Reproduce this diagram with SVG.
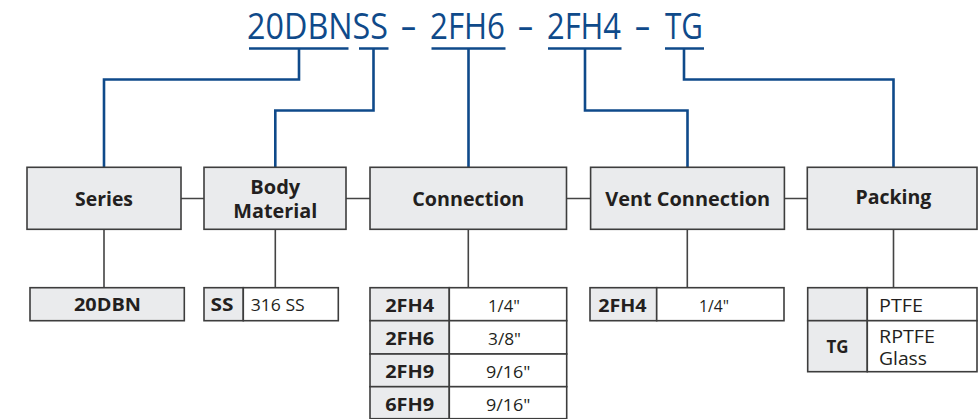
<svg xmlns="http://www.w3.org/2000/svg" width="979" height="419" viewBox="0 0 979 419">
<style>
.t{font-family:"Open Sans","Liberation Sans",sans-serif;fill:#231f20}
.title{font-family:"Open Sans","Liberation Sans",sans-serif;fill:#0f4a8a;font-size:36px}
.h{font-size:20px;font-weight:bold;text-anchor:middle}
.b{font-size:18px;font-weight:bold;text-anchor:middle}
.r{font-size:17px}
.p{font-size:18px}
.box{fill:#eaebed;stroke:#3d3d3d;stroke-width:1.6}
.wc{fill:#ffffff;stroke:#3d3d3d;stroke-width:1.6}
.gc{fill:#eaebed;stroke:#3d3d3d;stroke-width:1.6}
.blue{fill:none;stroke:#0f4a8a;stroke-width:2.6}
.gray{fill:none;stroke:#444;stroke-width:1.6}
</style>
<g id="title">
<text class="title" y="39"><tspan x="247" textLength="141" lengthAdjust="spacingAndGlyphs">20DBNSS</tspan><tspan x="401" textLength="15" lengthAdjust="spacingAndGlyphs">–</tspan><tspan x="430" textLength="75" lengthAdjust="spacingAndGlyphs">2FH6</tspan><tspan x="518" textLength="15" lengthAdjust="spacingAndGlyphs">–</tspan><tspan x="547" textLength="74" lengthAdjust="spacingAndGlyphs">2FH4</tspan><tspan x="635" textLength="15" lengthAdjust="spacingAndGlyphs">–</tspan><tspan x="665" textLength="38" lengthAdjust="spacingAndGlyphs">TG</tspan></text>
</g>
<g id="connectors">
<path class="blue" d="M249 48.5H348.5M299 48.5V79.5H104V167"/>
<path class="blue" d="M359 48.5H388.5M373.5 48.5V110.5H275.3V167"/>
<path class="blue" d="M431.5 48.5H505.5M468.5 48.5V167"/>
<path class="blue" d="M548 48.5H621.5M585 48.5V110.5H687.5V167"/>
<path class="blue" d="M665 48.5H704M684 48.5V79.5H893.5V167"/>
<path class="gray" d="M181 198.5H204M346 198.5H370M566.5 198.5H590.6M784.4 198.5H807.3"/>
<path class="gray" d="M104 229.3V288M275.3 229.3V288M468.3 229.3V288M687.3 229.3V288M893.5 229.3V288"/>
</g>
<g id="series">
<rect class="box" x="27" y="167.3" width="154" height="62"/>
<text class="t h" x="104" y="206" textLength="58" lengthAdjust="spacingAndGlyphs">Series</text>
</g>
<g id="body-material">
<rect class="box" x="204" y="167.3" width="142" height="62"/>
<text class="t h" font-size="19"><tspan x="275.3" y="194">Body</tspan><tspan x="275.3" y="218" textLength="84" lengthAdjust="spacingAndGlyphs">Material</tspan></text>
</g>
<g id="connection">
<rect class="box" x="370" y="167.3" width="196.5" height="62"/>
<text class="t h" x="468.3" y="206" textLength="112" lengthAdjust="spacingAndGlyphs">Connection</text>
</g>
<g id="vent-connection">
<rect class="box" x="590.6" y="167.3" width="193.8" height="62"/>
<text class="t h" x="687.7" y="206" textLength="165" lengthAdjust="spacingAndGlyphs">Vent Connection</text>
</g>
<g id="packing">
<rect class="box" x="807.3" y="167.3" width="169.7" height="62"/>
<text class="t h" x="893.4" y="204" textLength="76" lengthAdjust="spacingAndGlyphs">Packing</text>
</g>
<g id="series-options">
<rect class="box" x="30" y="287.7" width="154.3" height="33"/>
<text class="t b" x="107.5" y="311" textLength="67" lengthAdjust="spacingAndGlyphs">20DBN</text>
</g>
<g id="body-options">
<rect class="gc" x="204" y="287.7" width="39.3" height="33"/>
<rect class="wc" x="243.3" y="287.7" width="95" height="33"/>
<text class="t b" x="222" y="311" textLength="23" lengthAdjust="spacingAndGlyphs">SS</text>
<text class="t r" x="250.7" y="311" textLength="54" lengthAdjust="spacingAndGlyphs">316 SS</text>
</g>
<g id="connection-options">
<rect class="gc" x="370" y="287.7" width="79.3" height="33"/>
<rect class="wc" x="449.3" y="287.7" width="117.4" height="33"/>
<rect class="gc" x="370" y="320.7" width="79.3" height="33.3"/>
<rect class="wc" x="449.3" y="320.7" width="117.4" height="33.3"/>
<rect class="gc" x="370" y="354" width="79.3" height="32.7"/>
<rect class="wc" x="449.3" y="354" width="117.4" height="32.7"/>
<rect class="gc" x="370" y="386.7" width="79.3" height="32"/>
<rect class="wc" x="449.3" y="386.7" width="117.4" height="32"/>
<text class="t b" x="409.7" y="312" textLength="49" lengthAdjust="spacingAndGlyphs">2FH4</text>
<text class="t b" x="409.7" y="345" textLength="49" lengthAdjust="spacingAndGlyphs">2FH6</text>
<text class="t b" x="409.7" y="378" textLength="49" lengthAdjust="spacingAndGlyphs">2FH9</text>
<text class="t b" x="409.7" y="411" textLength="49" lengthAdjust="spacingAndGlyphs">6FH9</text>
<text class="t r" x="488" y="312" textLength="32" lengthAdjust="spacingAndGlyphs">1/4"</text>
<text class="t r" x="488" y="345" textLength="33" lengthAdjust="spacingAndGlyphs">3/8"</text>
<text class="t r" x="486" y="378" textLength="44.5" lengthAdjust="spacingAndGlyphs">9/16"</text>
<text class="t r" x="486" y="411" textLength="44.5" lengthAdjust="spacingAndGlyphs">9/16"</text>
</g>
<g id="vent-options">
<rect class="gc" x="590" y="287.7" width="66.7" height="33"/>
<rect class="wc" x="656.7" y="287.7" width="127.3" height="33"/>
<text class="t b" x="622.4" y="312" textLength="48.5" lengthAdjust="spacingAndGlyphs">2FH4</text>
<text class="t r" x="699" y="312" textLength="30" lengthAdjust="spacingAndGlyphs">1/4"</text>
</g>
<g id="packing-options">
<rect class="gc" x="807.7" y="287.7" width="59.6" height="33"/>
<rect class="wc" x="867.3" y="287.7" width="109.7" height="33"/>
<rect class="gc" x="807.7" y="320.7" width="59.6" height="51"/>
<rect class="wc" x="867.3" y="320.7" width="109.7" height="51"/>
<text class="t b" x="837.5" y="353.3" textLength="22" lengthAdjust="spacingAndGlyphs">TG</text>
<text class="t p" x="879" y="311.5" textLength="44" lengthAdjust="spacingAndGlyphs">PTFE</text>
<text class="t p"><tspan x="879" y="343.3" textLength="56" lengthAdjust="spacingAndGlyphs">RPTFE</tspan><tspan x="879" y="365" textLength="48" lengthAdjust="spacingAndGlyphs">Glass</tspan></text>
</g>
</svg>
